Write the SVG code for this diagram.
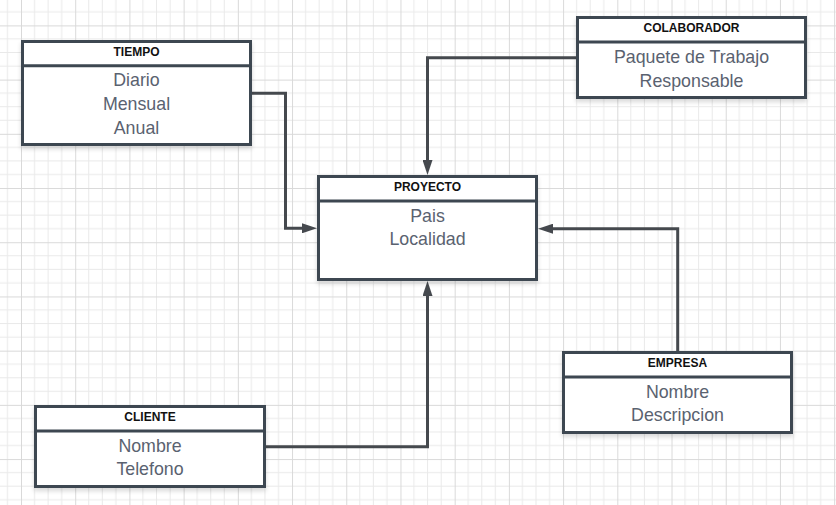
<svg xmlns="http://www.w3.org/2000/svg" width="836" height="505" viewBox="0 0 836 505">
<defs>
<pattern id="grid" patternUnits="userSpaceOnUse" x="-33.21" y="-28.81" width="54.21" height="54.21">
<rect x="13.05" y="0" width="1" height="54.21" fill="#e9e9e9"/>
<rect x="26.6" y="0" width="1" height="54.21" fill="#e9e9e9"/>
<rect x="40.16" y="0" width="1" height="54.21" fill="#e9e9e9"/>
<rect x="0" y="13.05" width="54.21" height="1" fill="#e9e9e9"/>
<rect x="0" y="26.6" width="54.21" height="1" fill="#e9e9e9"/>
<rect x="0" y="40.16" width="54.21" height="1" fill="#e9e9e9"/>
<rect x="0" y="0" width="1" height="54.21" fill="#d9d9d9"/>
<rect x="0" y="0" width="54.21" height="1" fill="#d9d9d9"/>
</pattern>
<filter id="shadow" x="-10%" y="-10%" width="120%" height="130%">
<feDropShadow dx="0" dy="3" stdDeviation="2" flood-color="#000" flood-opacity="0.15"/>
</filter>
<marker id="arrow" markerUnits="userSpaceOnUse" viewBox="0 0 15 10" refX="1" refY="5" markerWidth="15" markerHeight="10" orient="auto">
<path d="M0,0 L15,5 L0,10 z" fill="#45494e"/>
</marker>
<style>
.box{fill:#fff;stroke:#3d4751;stroke-width:3;filter:url(#shadow)}
.div{stroke:#3d4751;stroke-width:3}
.hdr{font-family:"Liberation Sans",Arial,sans-serif;font-weight:bold;font-size:12px;fill:#111;text-anchor:middle}
.txt{font-family:"Liberation Sans",Arial,sans-serif;font-size:17.8px;fill:#5a6270;text-anchor:middle}
.conn{fill:none;stroke:#45494e;stroke-width:3;marker-end:url(#arrow)}
</style>
</defs>
<rect x="0" y="0" width="836" height="505" fill="#fff"/>
<rect x="0" y="0" width="836" height="505" fill="url(#grid)"/>

<g id="connectors">
<path class="conn" d="M252,93.3 H285.5 V228.3 H303"/>
<path class="conn" d="M576,57.7 H427.5 V161"/>
<path class="conn" d="M677.7,351 V228.7 H552"/>
<path class="conn" d="M266,446.7 H427.5 V295"/>
</g>

<g id="tiempo">
<rect class="box" x="22.5" y="41.5" width="228" height="103"/>
<line class="div" x1="22.5" y1="65.8" x2="250.5" y2="65.8"/>
<text class="hdr" x="136.5" y="56">TIEMPO</text>
<text class="txt" x="136.5" y="86">Diario</text>
<text class="txt" x="136.5" y="110">Mensual</text>
<text class="txt" x="136.5" y="134">Anual</text>
</g>

<g id="colaborador">
<rect class="box" x="577.5" y="17.5" width="228" height="80"/>
<line class="div" x1="577.5" y1="42" x2="805.5" y2="42"/>
<text class="hdr" x="691.5" y="32">COLABORADOR</text>
<text class="txt" x="691.5" y="63.3">Paquete de Trabajo</text>
<text class="txt" x="691.5" y="86.8">Responsable</text>
</g>

<g id="proyecto">
<rect class="box" x="318.5" y="176.5" width="218" height="103"/>
<line class="div" x1="318.5" y1="201" x2="536.5" y2="201"/>
<text class="hdr" x="427.5" y="191">PROYECTO</text>
<text class="txt" x="427.5" y="221.7">Pais</text>
<text class="txt" x="427.5" y="245.2">Localidad</text>
</g>

<g id="empresa">
<rect class="box" x="563.5" y="352.5" width="228" height="80"/>
<line class="div" x1="563.5" y1="377" x2="791.5" y2="377"/>
<text class="hdr" x="677.5" y="367">EMPRESA</text>
<text class="txt" x="677.5" y="397.7">Nombre</text>
<text class="txt" x="677.5" y="421.2">Descripcion</text>
</g>

<g id="cliente">
<rect class="box" x="35.5" y="406.5" width="229" height="80"/>
<line class="div" x1="35.5" y1="431" x2="264.5" y2="431"/>
<text class="hdr" x="150" y="421">CLIENTE</text>
<text class="txt" x="150" y="451.7">Nombre</text>
<text class="txt" x="150" y="475.2">Telefono</text>
</g>
</svg>
